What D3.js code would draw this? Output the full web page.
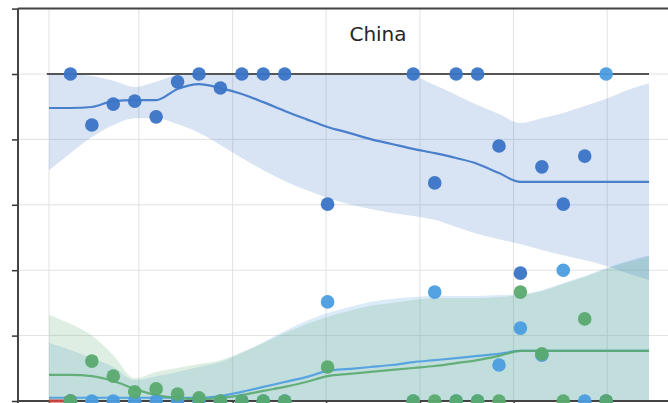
<!DOCTYPE html>
<html>
<head>
<meta charset="utf-8">
<script src="https://cdn.jsdelivr.net/npm/d3@7"></script>
<style>
  body { margin: 0; background: #fff; }
  text { font-family: "DejaVu Sans", sans-serif; }
</style>
</head>
<body>
<svg id="chart" width="668" height="403"></svg>
<script>
// time index of the fitted curves, and of the observed points
const fitT = [0, 1, 2, 3, 4, 5, 6, 7, 8, 9, 10, 11, 12, 13, 14, 15, 16, 17, 18, 19, 20, 21, 22, 23, 24, 25, 26, 27, 28];
const pointT = [1, 2, 3, 4, 5, 6, 7, 8, 9, 10, 11, 12, 13, 14, 15, 16, 17, 18, 19, 20, 21, 22, 23, 24, 25, 26, 27];

// observed shares (null = no observation)
const bluePoints = [1.0, 0.844, 0.908, 0.917, 0.869, 0.976, 1.0, 0.957, 1.0, 1.0, 1.0, null, 0.602, null, null, null, 1.0, 0.667, 1.0, 1.0, 0.78, 0.391, 0.716, 0.602, 0.749, 0.0, null];
const skyPoints = [0, 0, 0, 0, 0, 0, 0, 0, 0, 0, 0, null, 0.303, null, null, null, 0, 0.333, 0, 0, 0.11, 0.223, 0.14, 0.40, 0, 1.0, null];
const greenPoints = [0, 0.122, 0.076, 0.028, 0.037, 0.021, 0.01, 0, 0, 0, 0, null, 0.104, null, null, null, 0, 0, 0, 0, 0, 0.333, 0.144, 0, 0.251, 0, null];
const redPoints = [0, null, null, null, null, null, null, null, null, null, null, null, null, null, null, null, null, null, null, null, null, null, null, null, null, null, null];

// fitted trend and interval
const blueFit = [0.896, 0.896, 0.899, 0.917, 0.920, 0.920, 0.954, 0.969, 0.957, 0.939, 0.914, 0.887, 0.862, 0.838, 0.820, 0.801, 0.786, 0.771, 0.758, 0.743, 0.725, 0.697, 0.670, 0.670, 0.670, 0.670, 0.670, 0.670, 0.670];
const blueHi = [1.0, 1.0, 0.994, 0.979, 0.960, 0.976, 0.997, 1.0, 1.0, 1.0, 1.0, 1.0, 1.0, 1.0, 1.0, 1.0, 1.0, 0.994, 0.966, 0.936, 0.905, 0.878, 0.850, 0.865, 0.881, 0.902, 0.924, 0.951, 0.972];
const blueLo = [0.706, 0.758, 0.807, 0.844, 0.865, 0.865, 0.847, 0.820, 0.783, 0.743, 0.706, 0.673, 0.645, 0.621, 0.602, 0.587, 0.575, 0.566, 0.554, 0.532, 0.511, 0.495, 0.480, 0.462, 0.446, 0.431, 0.413, 0.391, 0.370];

const skyFit = [0.01, 0.01, 0.01, 0.01, 0.01, 0.01, 0.01, 0.01, 0.015, 0.028, 0.043, 0.058, 0.073, 0.092, 0.098, 0.104, 0.110, 0.119, 0.125, 0.131, 0.138, 0.144, 0.153, 0.153, 0.153, 0.153, 0.153, 0.153, 0.153];
const skyHi = [0.177, 0.156, 0.131, 0.104, 0.064, 0.076, 0.089, 0.104, 0.119, 0.147, 0.180, 0.214, 0.245, 0.269, 0.287, 0.303, 0.312, 0.318, 0.321, 0.321, 0.321, 0.324, 0.327, 0.339, 0.361, 0.382, 0.407, 0.428, 0.446];

const greenFit = [0.080, 0.080, 0.076, 0.061, 0.037, 0.018, 0.009, 0.006, 0.009, 0.018, 0.031, 0.043, 0.058, 0.076, 0.083, 0.089, 0.095, 0.101, 0.107, 0.116, 0.125, 0.138, 0.153, 0.153, 0.153, 0.153, 0.153, 0.153, 0.153];
const greenHi = [0.263, 0.236, 0.200, 0.140, 0.070, 0.089, 0.101, 0.113, 0.125, 0.150, 0.177, 0.208, 0.235, 0.257, 0.275, 0.291, 0.300, 0.309, 0.315, 0.315, 0.315, 0.318, 0.324, 0.336, 0.358, 0.379, 0.404, 0.425, 0.443];

const redFit = [0, 0];

const yTicks = [0, 0.2, 0.4, 0.6, 0.8, 1.0, 1.2];
const xGrid = [0, 4.19, 8.57, 12.93, 17.31, 21.68, 26.05];
const refLevels = [0, 1];

const margin = { top: 8.6, left: 18 };
const plotW = 720;            // axes run past the right edge of the crop
const plotH = 401 - margin.top;

const svg = d3.select('#chart');
const g = svg.append('g')
    .attr('transform', `translate(${margin.left}, ${margin.top})`);

const x = d3.scaleLinear().domain([0, 28]).range([31, 631]);
const y = d3.scaleLinear().domain([0, 1.2]).range([plotH, 0]);

// grid
g.append('g')
    .selectAll('line')
    .data(yTicks)
    .enter()
    .append('line')
    .attr('x1', 0).attr('x2', plotW)
    .attr('y1', d => y(d)).attr('y2', d => y(d))
    .attr('stroke', '#e2e2e2').attr('stroke-width', 1);

g.append('g')
    .selectAll('line')
    .data(xGrid)
    .enter()
    .append('line')
    .attr('x1', d => x(d)).attr('x2', d => x(d))
    .attr('y1', 0).attr('y2', plotH)
    .attr('stroke', '#e2e2e2').attr('stroke-width', 1);

// bands
const series = [
    { color: '#3a74c6', fit: blueFit, hi: blueHi, lo: blueLo },
    { color: '#4b9de0', fit: skyFit, hi: skyHi, lo: null },
    { color: '#5aaa6e', fit: greenFit, hi: greenHi, lo: null }
];

const area = d3.area()
    .x(d => x(d.t))
    .y0(d => y(d.lo))
    .y1(d => y(d.hi))
    .curve(d3.curveMonotoneX);

const line = d3.line()
    .x(d => x(d.t))
    .y(d => y(d.v))
    .curve(d3.curveMonotoneX);

series.forEach(s => {
    const band = fitT.map((t, i) => ({ t, hi: s.hi[i], lo: s.lo ? s.lo[i] : 0 }));
    g.append('path')
        .datum(band)
        .attr('d', area)
        .attr('fill', s.color)
        .attr('fill-opacity', 0.2);
});

// fitted lines
series.forEach(s => {
    g.append('path')
        .datum(fitT.map((t, i) => ({ t, v: s.fit[i] })))
        .attr('d', line)
        .attr('fill', 'none')
        .attr('stroke', s.color)
        .attr('stroke-width', 2.2)
        .attr('stroke-opacity', 0.9);
});

// reference lines at 0 and 1
g.append('g')
    .selectAll('line')
    .data(refLevels)
    .enter()
    .append('line')
    .attr('x1', x(-0.1)).attr('x2', x(28))
    .attr('y1', d => y(d)).attr('y2', d => y(d))
    .attr('stroke', '#555').attr('stroke-width', 2.2);

// axes / spines
g.append('g')
    .call(d3.axisLeft(y).tickValues(yTicks).tickSize(6).tickFormat(() => ''))
    .call(a => a.select('.domain').remove())
    .selectAll('line')
    .attr('stroke', '#333').attr('stroke-width', 1.5);

g.append('g')
    .attr('transform', `translate(0, ${plotH})`)
    .call(d3.axisBottom(x).tickValues(xGrid).tickSize(5).tickFormat(() => ''))
    .call(a => a.select('.domain').remove())
    .selectAll('line')
    .attr('stroke', '#333').attr('stroke-width', 1.5);

g.append('line')
    .attr('x1', 0).attr('x2', 0).attr('y1', 0).attr('y2', plotH + 3)
    .attr('stroke', '#444').attr('stroke-width', 2);
g.append('line')
    .attr('x1', 0).attr('x2', plotW).attr('y1', 0).attr('y2', 0)
    .attr('stroke', '#444').attr('stroke-width', 2);
g.append('line')
    .attr('x1', 0).attr('x2', plotW).attr('y1', plotH).attr('y2', plotH)
    .attr('stroke', '#444').attr('stroke-width', 2);

// red trend sits on the zero line
g.append('path')
    .datum(redFit.map((v, i) => ({ t: fitT[i], v })))
    .attr('d', line)
    .attr('fill', 'none')
    .attr('stroke', '#c9423f')
    .attr('stroke-width', 3);

// observed points, red first so the others sit on top
const allSeries = [
    { color: '#c9423f', points: redPoints },
    { color: '#3a74c6', points: bluePoints },
    { color: '#4b9de0', points: skyPoints },
    { color: '#5aaa6e', points: greenPoints }
];
allSeries.forEach(s => {
    g.append('g')
        .selectAll('circle')
        .data(pointT.map((t, i) => ({ t, v: s.points[i] })).filter(d => d.v !== null))
        .enter()
        .append('circle')
        .attr('cx', d => x(d.t))
        .attr('cy', d => y(d.v))
        .attr('r', 6.8)
        .attr('fill', s.color)
        .attr('fill-opacity', 0.95);
});

// title
g.append('text')
    .attr('x', 360)
    .attr('y', 32)
    .style('text-anchor', 'middle')
    .style('font-size', '20px')
    .style('fill', '#262626')
    .text('China');
</script>
</body>
</html>
